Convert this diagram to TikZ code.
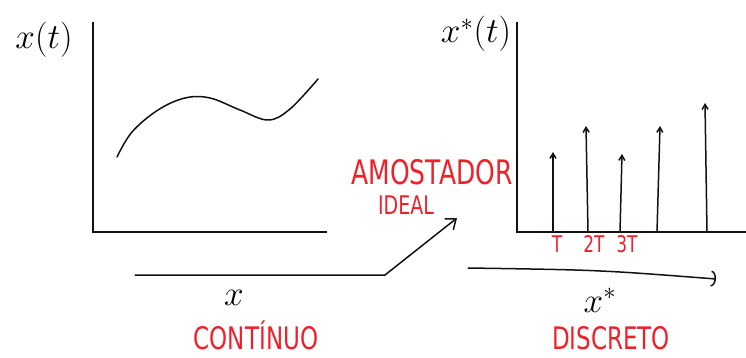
\documentclass[tikz,border=0pt]{standalone}
\usepackage{xcolor}
\usepackage{amsmath}
\usepackage{fontspec}
\setsansfont{DejaVu Sans}
\usepackage{tikz}
\usetikzlibrary{arrows.meta}
\definecolor{sketchRed}{HTML}{F0202A}
\definecolor{sketchInk}{HTML}{111111}
\tikzset{
  big/.style={font=\fontsize{20}{24}\selectfont},
  redlbl/.style={text=sketchRed, font=\sffamily\fontsize{23}{28}\selectfont},
  redsm/.style={text=sketchRed, font=\sffamily\fontsize{17}{19}\selectfont},
}
\newcommand{\tall}[1]{\scalebox{1}[1.35]{#1}}
\newcommand{\bigmath}[1]{\scalebox{1.7}{$#1$}}

\begin{document}
\begin{tikzpicture}[x=1pt, y=-1pt,
  axis/.style={draw=sketchInk, line width=2pt},
  ink/.style={draw=sketchInk, line width=1.5pt, line cap=round, line join=round},
  impulse/.style={ink, -{Straight Barb[length=5pt, width=6pt]}}]
  \useasboundingbox (0,0) rectangle (746,358);
  % continuous signal
  \coordinate (lo) at (93,232);
  \draw[axis] (93,22) -- (lo) -- (327,232);
  \node[big] (xt) at (44,40) {\bigmath{x(t)}};
  \draw[ink] plot[smooth, tension=0.6] coordinates {(117,157) (132,132) (158,110) (185,98) (210,98) (240,110) (268,120) (290,109) (318,79)};
  % sampled signal
  \coordinate (ro) at (517,232);
  \draw[axis] (517,22) -- (ro) -- (746,232);
  \node[big] (xst) at (476,34) {\bigmath{x^*(t)}};
  \foreach \px/\tx/\ty in {553/553/152, 588/586/126, 620/622/154, 657/660/126, 707/705/103}
    \draw[impulse] (\px,232) -- (\tx,\ty);
  \node[redsm] (t1) at (557,244) {\tall{T}};
  \node[redsm] (t2) at (594,244) {\tall{2T}};
  \node[redsm] (t3) at (627,244) {\tall{3T}};
  % sampler
  \node[redlbl, font=\sffamily\fontsize{25}{30}\selectfont] (amo) at (432,172) {\tall{AMOSTADOR}};
  \node[redlbl, font=\sffamily\fontsize{19}{22}\selectfont] (ideal) at (406,205) {\tall{IDEAL}};
  \coordinate (in0) at (135,275);
  \coordinate (kink) at (385,275);
  \coordinate (in1) at (457,218);
  \draw[ink, -{Straight Barb[length=9pt, width=14pt]}] (in0) -- (kink) -- (in1);
  \coordinate (out0) at (468,268);
  \coordinate (out1) at (716,279);
  \draw[ink, -{Arc Barb[length=5pt, width=16pt]}] (out0) .. controls (600,270) .. (out1);
  \node[big] (xc) at (234,298) {\bigmath{x}};
  \node[redlbl] (cont) at (256,335) {\tall{CONTÍNUO}};
  \node[big] (xd) at (600,300) {\bigmath{x^*}};
  \node[redlbl] (disc) at (611,338) {\tall{DISCRETO}};
\end{tikzpicture}
\end{document}
